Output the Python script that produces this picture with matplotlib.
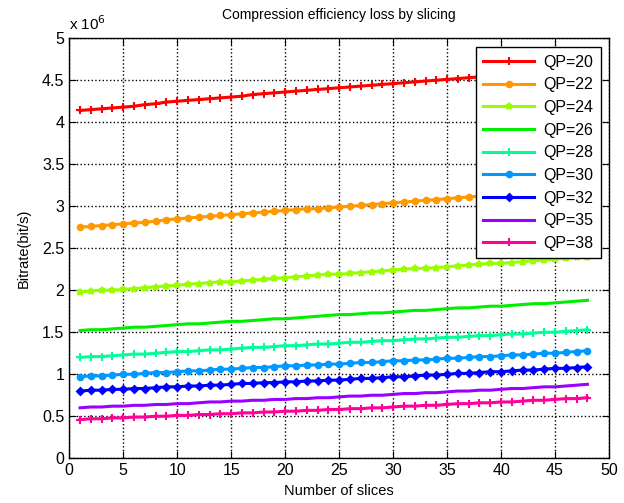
import numpy as np
import matplotlib
matplotlib.use("Agg")
import matplotlib.pyplot as plt
from matplotlib.ticker import FuncFormatter

plt.rcParams['font.family'] = ['Liberation Sans', 'DejaVu Sans']

# number of slices
slices = list(range(1, 49))

# bitrate per QP, in units of 1e6 bit/s
qp20 = [4.14, 4.15, 4.16, 4.17, 4.18, 4.19, 4.21, 4.22, 4.24, 4.25,
        4.26, 4.27, 4.28, 4.29, 4.30, 4.31, 4.33, 4.34, 4.35, 4.36,
        4.37, 4.38, 4.39, 4.40, 4.41, 4.42, 4.43, 4.44, 4.45, 4.46,
        4.47, 4.48, 4.49, 4.50, 4.51, 4.52, 4.53, 4.54, 4.55, 4.55,
        4.56, 4.57, 4.58, 4.59, 4.60, 4.61, 4.62, 4.63]
qp22 = [2.75, 2.76, 2.77, 2.78, 2.79, 2.80, 2.81, 2.82, 2.84, 2.85,
        2.86, 2.87, 2.88, 2.89, 2.90, 2.91, 2.92, 2.93, 2.94, 2.95,
        2.96, 2.97, 2.97, 2.98, 2.99, 3.00, 3.01, 3.02, 3.03, 3.04,
        3.05, 3.06, 3.07, 3.08, 3.09, 3.10, 3.11, 3.12, 3.12, 3.13,
        3.14, 3.15, 3.16, 3.17, 3.17, 3.18, 3.19, 3.20]
qp24 = [1.98, 1.99, 2.00, 2.00, 2.01, 2.02, 2.03, 2.04, 2.05, 2.06,
        2.07, 2.08, 2.09, 2.10, 2.10, 2.11, 2.12, 2.13, 2.14, 2.15,
        2.16, 2.17, 2.18, 2.19, 2.19, 2.20, 2.21, 2.22, 2.23, 2.24,
        2.25, 2.26, 2.26, 2.27, 2.28, 2.29, 2.30, 2.31, 2.32, 2.32,
        2.33, 2.34, 2.35, 2.36, 2.37, 2.38, 2.39, 2.40]
qp26 = [1.52, 1.53, 1.53, 1.54, 1.55, 1.56, 1.56, 1.57, 1.58, 1.59,
        1.60, 1.60, 1.61, 1.62, 1.63, 1.63, 1.64, 1.65, 1.66, 1.66,
        1.67, 1.68, 1.69, 1.70, 1.71, 1.71, 1.72, 1.73, 1.73, 1.74,
        1.75, 1.76, 1.76, 1.77, 1.78, 1.79, 1.79, 1.80, 1.81, 1.81,
        1.82, 1.83, 1.84, 1.84, 1.85, 1.86, 1.87, 1.88]
qp28 = [1.20, 1.21, 1.21, 1.22, 1.23, 1.24, 1.24, 1.25, 1.26, 1.27,
        1.27, 1.28, 1.29, 1.29, 1.30, 1.31, 1.32, 1.32, 1.33, 1.34,
        1.34, 1.35, 1.36, 1.36, 1.37, 1.38, 1.38, 1.39, 1.40, 1.40,
        1.41, 1.42, 1.42, 1.43, 1.44, 1.44, 1.45, 1.46, 1.46, 1.47,
        1.48, 1.48, 1.49, 1.50, 1.50, 1.51, 1.52, 1.53]
qp30 = [0.97, 0.98, 0.98, 0.99, 1.00, 1.00, 1.01, 1.02, 1.02, 1.03,
        1.04, 1.04, 1.05, 1.06, 1.06, 1.07, 1.08, 1.08, 1.09, 1.10,
        1.10, 1.11, 1.11, 1.12, 1.12, 1.13, 1.14, 1.14, 1.15, 1.16,
        1.16, 1.17, 1.17, 1.18, 1.19, 1.19, 1.20, 1.21, 1.21, 1.22,
        1.23, 1.23, 1.24, 1.25, 1.25, 1.26, 1.27, 1.28]
qp32 = [0.80, 0.81, 0.81, 0.82, 0.82, 0.83, 0.83, 0.84, 0.85, 0.85,
        0.86, 0.86, 0.87, 0.87, 0.88, 0.89, 0.89, 0.90, 0.90, 0.91,
        0.91, 0.92, 0.92, 0.93, 0.93, 0.94, 0.95, 0.95, 0.96, 0.97,
        0.97, 0.98, 0.99, 0.99, 1.00, 1.01, 1.01, 1.02, 1.03, 1.03,
        1.04, 1.05, 1.05, 1.06, 1.07, 1.07, 1.08, 1.09]
qp35 = [0.60, 0.61, 0.61, 0.62, 0.62, 0.63, 0.63, 0.64, 0.64, 0.65,
        0.65, 0.66, 0.67, 0.67, 0.68, 0.68, 0.69, 0.69, 0.70, 0.70,
        0.71, 0.71, 0.72, 0.72, 0.73, 0.74, 0.74, 0.75, 0.75, 0.76,
        0.77, 0.77, 0.78, 0.78, 0.79, 0.80, 0.80, 0.81, 0.81, 0.82,
        0.83, 0.83, 0.84, 0.85, 0.85, 0.86, 0.87, 0.88]
qp38 = [0.46, 0.47, 0.47, 0.48, 0.48, 0.49, 0.49, 0.50, 0.50, 0.51,
        0.51, 0.52, 0.52, 0.53, 0.53, 0.54, 0.54, 0.55, 0.55, 0.56,
        0.56, 0.57, 0.57, 0.58, 0.58, 0.59, 0.59, 0.60, 0.60, 0.61,
        0.62, 0.62, 0.63, 0.63, 0.64, 0.65, 0.65, 0.66, 0.66, 0.67,
        0.67, 0.68, 0.69, 0.69, 0.70, 0.71, 0.71, 0.72]

labels = ['QP=20', 'QP=22', 'QP=24', 'QP=26', 'QP=28',
          'QP=30', 'QP=32', 'QP=35', 'QP=38']
series = [qp20, qp22, qp24, qp26, qp28, qp30, qp32, qp35, qp38]
colors = ['#ff0000', '#ff9900', '#99ff00', '#00ee00', '#00ff99',
          '#0099ff', '#0000ff', '#9900ff', '#ff0099']
markers = ['+', 'o', '*', None, '+', 'o', 'D', None, '+']
msizes = [6, 4, 5, 0, 6, 4, 3.5, 0, 6]

fig = plt.figure(figsize=(6.24, 5.03), dpi=100)
ax = fig.add_axes([0.111, 0.089, 0.865, 0.835])

for vals, lab, c, m, ms in zip(series, labels, colors, markers, msizes):
    y = np.array(vals) * 1e6
    ax.plot(slices, y, color=c, lw=2.2, marker=m, ms=ms, mew=1.5, label=lab)

ax.set_xlim(0, 50)
ax.set_ylim(0, 5e6)
ax.set_xticks(range(0, 51, 5))
ax.set_yticks(np.arange(0, 5.01e6, 0.5e6))
ax.yaxis.set_major_formatter(FuncFormatter(lambda v, p: '%g' % (v / 1e6)))
ax.text(0.0, 1.012, r'x 10$^6$', transform=ax.transAxes, fontsize=11,
        ha='left', va='bottom')

ax.grid(True, color='black', linestyle=':', linewidth=1)
ax.tick_params(direction='in', top=True, right=True, labelsize=11.5, length=5)
for s in ax.spines.values():
    s.set_linewidth(1)

ax.set_title('Compression efficiency loss by slicing', fontsize=10, pad=14)
ax.set_xlabel('Number of slices', fontsize=10.5, labelpad=4)
ax.set_ylabel('Bitrate(bit/s)', fontsize=10.5, labelpad=8)

leg = ax.legend(loc='upper right', fontsize=11.5, fancybox=False, framealpha=1,
                edgecolor='black', handlelength=3.2, borderpad=0.45,
                labelspacing=0.48, handletextpad=0.6,
                bbox_to_anchor=(1.0, 0.997))
leg.get_frame().set_linewidth(1)

fig.savefig('out.png', dpi=100)
